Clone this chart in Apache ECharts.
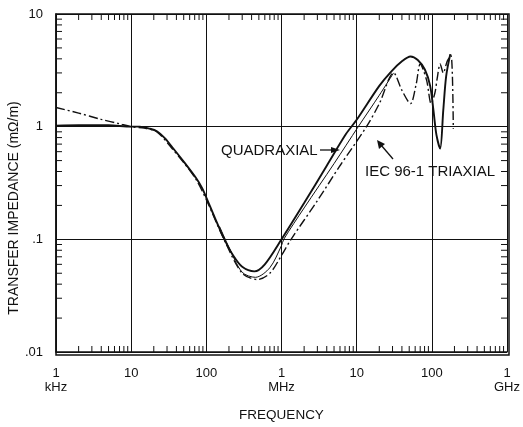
<!DOCTYPE html>
<html>
<head>
<meta charset="utf-8">
<script src="https://cdn.jsdelivr.net/npm/echarts@6/dist/echarts.min.js"></script>
<style>html,body{margin:0;padding:0;background:#fff}#c{width:523px;height:427px}</style>
</head>
<body>
<div id="c"></div>
<script>
// ---- data (frequency in kHz, transfer impedance in mOhm/m) ----
const quadFreq = [1, 2, 5, 10, 13, 17.6, 22, 28, 35, 50, 73, 88, 100, 130, 174, 230, 300, 435, 600, 1000, 2000, 4000, 7200, 10000, 20000, 29000, 40000, 52000, 65000, 81000, 95000, 105000, 115000, 129000, 142000, 155000, 176000];
const quadVal  = [1.02, 1.03, 1.03, 1.0, 1.0, 0.96, 0.91, 0.79, 0.66, 0.49, 0.35, 0.285, 0.235, 0.155, 0.1, 0.071, 0.057, 0.052, 0.06, 0.1, 0.21, 0.45, 0.86, 1.15, 2.3, 3.1, 3.8, 4.2, 3.9, 3.2, 2.3, 1.4, 0.85, 0.64, 1.4, 2.8, 4.4];

const thinFreq = [150, 200, 300, 450, 700, 1000, 1070, 2000, 5000, 10500, 20000, 31000];
const thinVal  = [0.13, 0.085, 0.051, 0.046, 0.056, 0.088, 0.1, 0.19, 0.47, 1.0, 1.9, 3.0];

const triFreq = [1, 2, 4, 7, 10, 15, 22, 35, 50, 73, 100, 174, 300, 480, 700, 1000, 1340, 3000, 6000, 13500, 20000, 31000, 40000, 52000, 62000, 70000, 85000, 98000, 110000, 118000, 129000, 142000, 160000, 180000, 193000];
const triVal  = [1.48, 1.32, 1.16, 1.06, 1.0, 0.97, 0.9, 0.64, 0.48, 0.34, 0.225, 0.098, 0.05, 0.044, 0.05, 0.072, 0.1, 0.22, 0.45, 1.0, 1.6, 3.0, 2.1, 1.6, 2.4, 3.6, 2.6, 1.6, 2.0, 2.7, 3.6, 3.0, 3.8, 4.3, 0.96];

const xTickLabels = ['1\nkHz', '10', '100', '1\nMHz', '10', '100', '1\nGHz'];
const yTickLabels = ['.01', '.1', '1', '10'];
const xName = 'FREQUENCY';
const yName = 'TRANSFER IMPEDANCE (m\u03A9/m)';
const quadLabel = 'QUADRAXIAL';
const triLabel = 'IEC 96-1 TRIAXIAL';

const X_MIN = 1, X_MAX = 1e6, Y_MIN = 0.01, Y_MAX = 10;

function zip(f, v) { return f.map((x, i) => [x, v[i]]); }

// minor tick positions (2..9 in each decade) for the log axes
const minorTicks = [];
for (let d = 0; d < 6; d++) for (let m = 2; m <= 9; m++) {
  const v = m * Math.pow(10, d);
  minorTicks.push([v, Y_MIN, 0], [v, Y_MAX, 1]);
}
for (let d = -2; d < 1; d++) for (let m = 2; m <= 9; m++) {
  const v = m * Math.pow(10, d);
  minorTicks.push([X_MIN, v, 2], [X_MAX, v, 3]);
}

const chart = echarts.init(document.getElementById('c'), null, { renderer: 'canvas' });
const font = 'Liberation Sans';
const ink = '#111';

chart.setOption({
  animation: false,
  backgroundColor: '#fff',
  grid: { left: 56, top: 14, right: 14, bottom: 72, containLabel: false },
  xAxis: {
    type: 'log', logBase: 10, min: X_MIN, max: X_MAX, splitNumber: 6,
    axisLine: { show: true, lineStyle: { color: ink, width: 1.5 } },
    axisTick: { show: false },
    splitLine: { show: true, lineStyle: { color: ink, width: 1 } },
    axisLabel: {
      color: ink, fontFamily: font, fontSize: 13, lineHeight: 14, margin: 14,
      formatter: v => xTickLabels[Math.round(Math.log10(v))]
    },
    name: xName, nameLocation: 'middle', nameGap: 56,
    nameTextStyle: { color: ink, fontFamily: font, fontSize: 13.5 }
  },
  yAxis: {
    type: 'log', logBase: 10, min: Y_MIN, max: Y_MAX, splitNumber: 3,
    axisLine: { show: true, lineStyle: { color: ink, width: 1.5 } },
    axisTick: { show: false },
    splitLine: { show: true, lineStyle: { color: ink, width: 1 } },
    axisLabel: {
      color: ink, fontFamily: font, fontSize: 13, margin: 13,
      formatter: v => yTickLabels[Math.round(Math.log10(v)) + 2]
    }
  },
  graphic: [
    { type: 'rect', shape: { x: 56, y: 14, width: 453, height: 341 }, style: { fill: 'none', stroke: ink, lineWidth: 1.5 }, z: 10 },
    { type: 'text', x: 14, y: 208, rotation: Math.PI / 2, style: { text: yName, fill: ink, font: '14px "Liberation Sans"', align: 'center', verticalAlign: 'middle' } },
    { type: 'text', x: 221, y: 151, style: { text: quadLabel, fill: ink, font: '15px "Liberation Sans"', align: 'left', verticalAlign: 'middle' }, z: 20 },
    { type: 'line', shape: { x1: 320, y1: 150, x2: 333, y2: 150 }, style: { stroke: ink, lineWidth: 1.3 }, z: 20 },
    { type: 'polygon', shape: { points: [[340, 150], [331, 147], [331, 153]] }, style: { fill: ink }, z: 20 },
    { type: 'text', x: 365, y: 172, style: { text: triLabel, fill: ink, font: '15px "Liberation Sans"', align: 'left', verticalAlign: 'middle' }, z: 20 },
    { type: 'line', shape: { x1: 393, y1: 159, x2: 381, y2: 145 }, style: { stroke: ink, lineWidth: 1.3 }, z: 20 },
    { type: 'polygon', shape: { points: [[377, 140], [379, 149], [385, 144]] }, style: { fill: ink }, z: 20 }
  ],
  series: [
    {
      type: 'line', name: 'Quadraxial', data: zip(quadFreq, quadVal),
      showSymbol: false, smooth: 0.3, lineStyle: { color: ink, width: 1.9 }, z: 5
    },
    {
      type: 'line', name: 'thin', data: zip(thinFreq, thinVal),
      showSymbol: false, smooth: 0.3, lineStyle: { color: ink, width: 1 }, z: 5
    },
    {
      type: 'line', name: 'IEC 96-1 Triaxial', data: zip(triFreq, triVal),
      showSymbol: false, smooth: 0.3, lineStyle: { color: ink, width: 1.4, type: [9, 3, 2, 3] }, z: 5
    },
    {
      type: 'custom', name: 'ticks', data: minorTicks, clip: false, silent: true, z: 8,
      renderItem: (params, api) => {
        const p = api.coord([api.value(0), api.value(1)]);
        const side = api.value(2);
        const L = 6;
        let x2 = p[0], y2 = p[1];
        if (side === 0) y2 -= L; else if (side === 1) y2 += L; else if (side === 2) x2 += L; else x2 -= L;
        return { type: 'line', shape: { x1: p[0], y1: p[1], x2: x2, y2: y2 }, style: { stroke: ink, lineWidth: 1 } };
      }
    }
  ]
});
</script>
</body>
</html>
